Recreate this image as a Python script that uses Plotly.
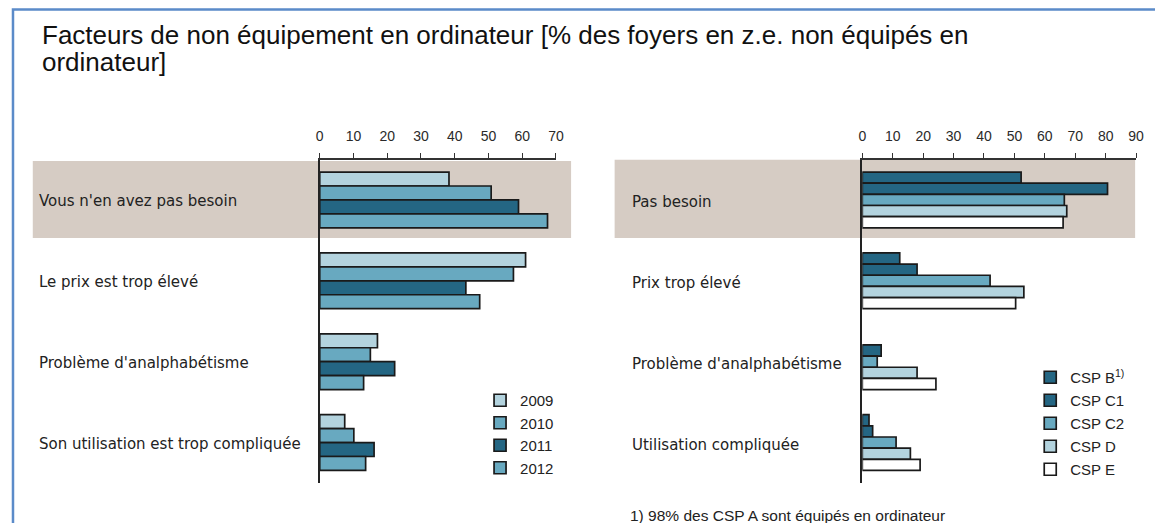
import plotly.graph_objects as go

# page body has an 8px margin: figure is sized to fit the window without scrolling
OFF = 8
W, H = 1163 - 2 * OFF, 531 - 2 * OFF

# ---------------- data ----------------
title_line1 = "Facteurs de non équipement en ordinateur [% des foyers en z.e. non équipés en"
title_line2 = "ordinateur]"

left_categories = ["Vous n'en avez pas besoin", "Le prix est trop élevé",
                   "Problème d'analphabétisme", "Son utilisation est trop compliquée"]
left_series = ["2009", "2010", "2011", "2012"]
v2009 = [38.3, 61.0, 17.1, 7.4]
v2010 = [50.8, 57.4, 15.0, 10.1]
v2011 = [58.9, 43.3, 22.2, 16.1]
v2012 = [67.5, 47.4, 13.0, 13.6]
left_values = [v2009, v2010, v2011, v2012]
left_ticks = [0, 10, 20, 30, 40, 50, 60, 70]

right_categories = ["Pas besoin", "Prix trop élevé",
                    "Problème d'analphabétisme", "Utilisation compliquée"]
right_series = ["CSP B<sup>1)</sup>", "CSP C1", "CSP C2", "CSP D", "CSP E"]
csp_b = [52.2, 12.3, None, 2.2]
csp_c1 = [80.6, 18.0, 6.2, 3.4]
csp_c2 = [66.4, 42.0, 4.9, 11.1]
csp_d = [67.2, 53.1, 18.0, 15.8]
csp_e = [66.0, 50.4, 24.2, 19.0]
right_values = [csp_b, csp_c1, csp_c2, csp_d, csp_e]
right_ticks = [0, 10, 20, 30, 40, 50, 60, 70, 80, 90]

footnote = "1) 98% des CSP A sont équipés en ordinateur"

# ---------------- styles ----------------
LIGHT = "#b3d3de"
MED = "#68a9c0"
DARK = "#246683"
left_colors = [LIGHT, MED, DARK, MED]
right_colors = [DARK, DARK, MED, LIGHT, "#ffffff"]
OUTLINE = "#1a1a1a"


def px_x(p):
    return (p - OFF) / W


def px_y(p):
    return 1 - (p - OFF) / H


fig = go.Figure()

for name, vals, col in zip(left_series, left_values, left_colors):
    fig.add_trace(go.Bar(
        y=left_categories, x=vals, name=name, orientation="h",
        marker=dict(color=col, line=dict(color=OUTLINE, width=1.7)),
        xaxis="x", yaxis="y", legend="legend", legendgroup=name))

for name, vals, col in zip(right_series, right_values, right_colors):
    fig.add_trace(go.Bar(
        y=right_categories, x=vals, name=name, orientation="h",
        marker=dict(color=col, line=dict(color=OUTLINE, width=1.7)),
        xaxis="x2", yaxis="y2", legend="legend2", legendgroup=name))

ydom = [px_y(483), px_y(159.5)]
tickfont = dict(family="Liberation Sans, Arial", size=14, color="#2a2a2a")

common_x = dict(side="top", showline=True, linecolor="#333333", linewidth=1.5,
                ticks="outside", ticklen=5, tickwidth=1.2, tickcolor="#333333",
                showgrid=False, zeroline=False, tickfont=tickfont,
                ticklabelstandoff=6, fixedrange=True)
common_y = dict(showline=True, linecolor="#222222", linewidth=2,
                showticklabels=False, ticks="", showgrid=False, zeroline=False,
                domain=ydom, fixedrange=True)

legfont = dict(family="Liberation Sans, Arial", size=15, color="#222")

fig.update_layout(
    width=W, height=H,
    margin=dict(l=0, r=0, t=0, b=0),
    paper_bgcolor="white", plot_bgcolor="rgba(0,0,0,0)",
    barmode="group", bargap=0.31, bargroupgap=0,
    xaxis=dict(common_x, domain=[px_x(319), px_x(557.7)], range=[0, 70],
               tickvals=left_ticks, anchor="y"),
    yaxis=dict(common_y, categoryorder="array", categoryarray=left_categories,
               autorange="reversed", anchor="x"),
    xaxis2=dict(common_x, domain=[px_x(867.3), px_x(1144)], range=[0, 90],
                tickvals=right_ticks, anchor="y2"),
    yaxis2=dict(common_y, categoryorder="array", categoryarray=right_categories,
                autorange="reversed", anchor="x2"),
    legend=dict(x=px_x(481), y=px_y(384), xanchor="left", yanchor="top",
                bgcolor="rgba(0,0,0,0)", traceorder="grouped", tracegroupgap=0,
                font=legfont),
    legend2=dict(x=px_x(1037), y=px_y(361), xanchor="left", yanchor="top",
                 bgcolor="rgba(0,0,0,0)", traceorder="grouped", tracegroupgap=0.5,
                 font=legfont),
    showlegend=True,
)

# highlighted band behind the first category of each panel
fig.add_shape(type="rect", xref="paper", yref="y", x0=px_x(29), x1=px_x(573),
              y0=-0.48, y1=0.47, fillcolor="#d6ccc4", line_width=0, layer="below")
fig.add_shape(type="rect", xref="paper", yref="y2", x0=px_x(617), x1=px_x(1143),
              y0=-0.5, y1=0.47, fillcolor="#d6ccc4", line_width=0, layer="below")

# frame
fig.add_shape(type="rect", xref="paper", yref="paper", x0=px_x(9), x1=1.05,
              y0=-0.05, y1=px_y(9.5), line=dict(color="#5b8bc9", width=2.5),
              fillcolor="rgba(0,0,0,0)", layer="above")

labfont = dict(family="DejaVu Sans", size=15, color="#222222")
for c in left_categories:
    fig.add_annotation(xref="paper", yref="y", x=px_x(33), y=c, text=c,
                       showarrow=False, xanchor="left", yanchor="middle",
                       font=labfont, yshift=-1)
for c in right_categories:
    fig.add_annotation(xref="paper", yref="y2", x=px_x(633), y=c, text=c,
                       showarrow=False, xanchor="left", yanchor="middle",
                       font=labfont, yshift=-2)

titlefont = dict(family="Liberation Sans, Arial", size=26, color="#111111")
fig.add_annotation(xref="paper", yref="paper", x=px_x(36), y=px_y(35),
                   text=title_line1, showarrow=False, xanchor="left",
                   yanchor="middle", font=titlefont)
fig.add_annotation(xref="paper", yref="paper", x=px_x(36), y=px_y(62),
                   text=title_line2, showarrow=False, xanchor="left",
                   yanchor="middle", font=titlefont)

fig.add_annotation(xref="paper", yref="paper", x=px_x(631), y=px_y(515),
                   text=footnote, showarrow=False, xanchor="left", yanchor="middle",
                   font=dict(family="Liberation Sans, Arial", size=15.5, color="#222222"))

fig.write_html("out.html")
